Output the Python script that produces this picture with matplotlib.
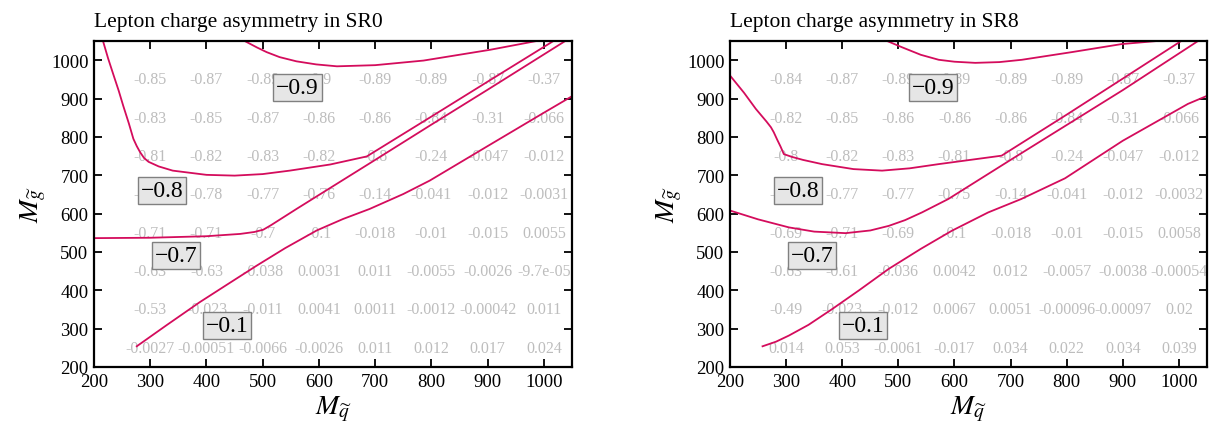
import numpy as np
import matplotlib
matplotlib.use("Agg")
import matplotlib.pyplot as plt

plt.rcParams['font.family'] = ['Liberation Serif', 'DejaVu Serif']
plt.rcParams['mathtext.fontset'] = 'stix'

# grid of squark / gluino masses
mq = [300, 400, 500, 600, 700, 800, 900, 1000]
mg = [250, 350, 450, 550, 650, 750, 850, 950]

# asymmetry values, rows from M_g = 250 up to 950
asym_sr0 = [
    [-0.0027, -0.00051, -0.0066, -0.0026, 0.011, 0.012, 0.017, 0.024],
    [-0.53, -0.023, -0.011, 0.0041, 0.0011, -0.0012, -0.00042, 0.011],
    [-0.63, -0.63, -0.038, 0.0031, 0.011, -0.0055, -0.0026, -9.7e-05],
    [-0.71, -0.71, -0.7, -0.1, -0.018, -0.01, -0.015, 0.0055],
    [-0.79, -0.78, -0.77, -0.76, -0.14, -0.041, -0.012, -0.0031],
    [-0.81, -0.82, -0.83, -0.82, -0.8, -0.24, -0.047, -0.012],
    [-0.83, -0.85, -0.87, -0.86, -0.86, -0.84, -0.31, -0.066],
    [-0.85, -0.87, -0.89, -0.9, -0.89, -0.89, -0.87, -0.37],
]
asym_sr8 = [
    [0.014, 0.053, -0.0061, -0.017, 0.034, 0.022, 0.034, 0.039],
    [-0.49, -0.023, -0.012, 0.0067, 0.0051, -0.00096, -0.00097, 0.02],
    [-0.63, -0.61, -0.036, 0.0042, 0.012, -0.0057, -0.0038, -0.00054],
    [-0.69, -0.71, -0.69, -0.1, -0.018, -0.01, -0.015, 0.0058],
    [-0.78, -0.77, -0.77, -0.75, -0.14, -0.041, -0.012, -0.0032],
    [-0.8, -0.82, -0.83, -0.81, -0.8, -0.24, -0.047, -0.012],
    [-0.82, -0.85, -0.86, -0.86, -0.86, -0.84, -0.31, -0.066],
    [-0.84, -0.87, -0.89, -0.89, -0.89, -0.89, -0.87, -0.37],
]

levels = [-0.9, -0.8, -0.7, -0.1]
label_pos = [(562, 929), (321, 660), (346, 490), (437, 308)]

# contour lines (x, y)
sr0_lines = {
    -0.9: [(468, 1050), (490, 1033), (507, 1021), (530, 1008), (560, 997),
           (595, 989), (632, 984), (700, 987), (786, 999), (904, 1027),
           (987, 1050)],
    -0.8: [(216, 1050), (225, 1005), (235, 960), (244, 920), (252, 881),
           (262, 835), (270, 795), (276, 776), (282, 760), (289, 745),
           (297, 735), (315, 723), (340, 712), (400, 701), (450, 699),
           (500, 703), (548, 712), (620, 728), (685, 749), (800, 853),
           (900, 944), (1017, 1050)],
    -0.7: [(200, 536), (300, 537), (400, 541), (460, 547), (485, 552),
           (501, 558), (515, 570), (560, 612), (700, 740), (800, 832),
           (900, 923), (1038, 1050)],
    -0.1: [(276, 254), (330, 310), (388, 369), (440, 418), (489, 464),
           (540, 510), (596, 556), (643, 586), (690, 612), (750, 651),
           (797, 686), (900, 776), (1000, 863), (1050, 906)],
}
sr8_lines = {
    -0.9: [(480, 1050), (506, 1034), (540, 1014), (572, 1001), (600, 996),
           (637, 993), (680, 995), (720, 1001), (809, 1021), (898, 1042),
           (969, 1051)],
    -0.8: [(200, 960), (225, 915), (246, 873), (265, 840), (273, 825),
           (278, 812), (284, 793), (290, 775), (296, 755), (310, 748),
           (330, 740), (364, 729), (420, 716), (471, 712), (520, 718),
           (572, 729), (684, 751), (800, 858), (900, 952), (1004, 1050)],
    -0.7: [(200, 608), (250, 585), (305, 564), (350, 553), (406, 549),
           (450, 556), (483, 568), (512, 583), (542, 603), (589, 638),
           (700, 740), (800, 831), (900, 922), (1034, 1050)],
    -0.1: [(258, 254), (282, 266), (305, 282), (340, 310), (382, 351),
           (430, 400), (483, 456), (540, 508), (595, 555), (660, 603),
           (719, 638), (797, 692), (900, 790), (1016, 886), (1050, 907)],
}

line_color = '#d40c5c'


def draw_panel(ax, values, lines, title):
    for i, y in enumerate(mg):
        for j, x in enumerate(mq):
            ax.text(x, y, '%.2g' % values[i][j], ha='center', va='center',
                    color='#bdbdbd', fontsize=11.5, zorder=1, clip_on=False)
    for lev in levels:
        pts = np.array(lines[lev])
        ax.plot(pts[:, 0], pts[:, 1], color=line_color, lw=1.3, zorder=2)
    for lev, (x, y) in zip(levels, label_pos):
        ax.text(x, y, ('%g' % lev).replace('-', '\u2212'), ha='center',
                va='center', fontsize=17, zorder=3,
                bbox=dict(boxstyle='square,pad=0.12', fc='#e6e6e6',
                          ec='#808080', lw=1.0))
    ax.set_xlim(200, 1050)
    ax.set_ylim(200, 1050)
    ax.set_xticks(range(200, 1001, 100))
    ax.set_yticks(range(200, 1001, 100))
    ax.tick_params(direction='in', top=True, right=True, length=6, width=1.3,
                   labelsize=13.5, pad=4)
    for s in ax.spines.values():
        s.set_linewidth(1.6)
    ax.set_xlabel(r'$M_{\widetilde{q}}$', fontsize=20, labelpad=3)
    ax.set_ylabel(r'$M_{\widetilde{g}}$', fontsize=20, labelpad=2)
    ax.set_title(title, loc='left', fontsize=15.5, pad=11)


fig = plt.figure(figsize=(12.15, 4.35), dpi=100)
ax1 = fig.add_axes([94 / 1215, 67 / 435, 478 / 1215, 326 / 435])
ax2 = fig.add_axes([730 / 1215, 67 / 435, 477 / 1215, 326 / 435])

draw_panel(ax1, asym_sr0, sr0_lines, 'Lepton charge asymmetry in SR0')
draw_panel(ax2, asym_sr8, sr8_lines, 'Lepton charge asymmetry in SR8')

fig.savefig('out.png', dpi=100)
